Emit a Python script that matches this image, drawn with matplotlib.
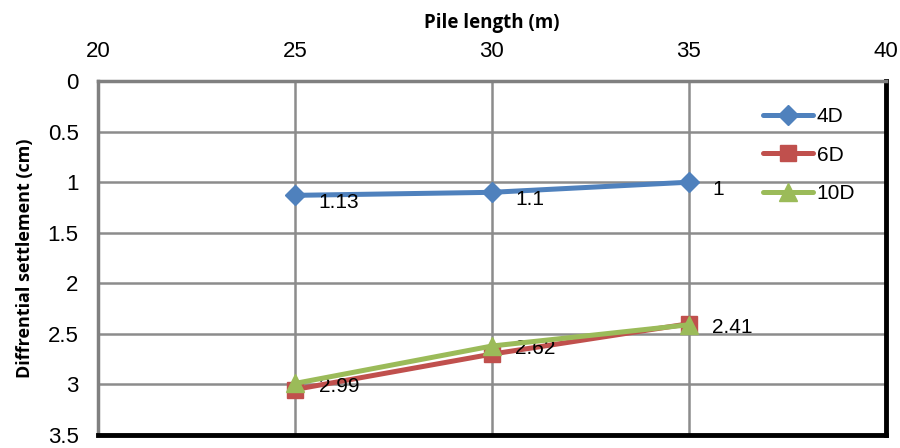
import matplotlib
matplotlib.use("Agg")
import matplotlib.pyplot as plt

# pile lengths (m) and differential settlement (cm) for each spacing
pile_length = [25, 30, 35]
settle_4d = [1.13, 1.10, 1.00]
settle_6d = [3.05, 2.70, 2.40]
settle_10d = [2.99, 2.62, 2.41]

x_ticks = [20, 25, 30, 35, 40]
y_ticks = [0, 0.5, 1, 1.5, 2, 2.5, 3, 3.5]

num_font = ["Liberation Sans Narrow", "Liberation Sans"]

fig = plt.figure(figsize=(9, 4.48), dpi=100)
ax = fig.add_axes([0.109, 0.029, 0.875, 0.790])

ax.plot(pile_length, settle_4d, color="#4F81BD", lw=3.6, marker="D", ms=10,
        label="4D", solid_capstyle="round", zorder=3)
ax.plot(pile_length, settle_6d, color="#C0504D", lw=3.6, marker="s", ms=12,
        label="6D", solid_capstyle="round", zorder=3)
ax.plot(pile_length, settle_10d, color="#9BBB59", lw=3.6, marker="^", ms=13,
        label="10D", solid_capstyle="round", zorder=4)

# value labels next to the points
for x, y in zip(pile_length, settle_4d):
    ax.annotate(f"{y:g}", (x, y), xytext=(17, -5), textcoords="offset points",
                ha="left", va="center", fontsize=15, family="Liberation Sans")
for x, y in zip(pile_length, settle_10d):
    ax.annotate(f"{y:g}", (x, y), xytext=(17, -2), textcoords="offset points",
                ha="left", va="center", fontsize=15, family="Liberation Sans")

ax.set_xlim(20, 40)
ax.set_ylim(3.5, 0)
ax.set_xticks(x_ticks)
ax.set_yticks(y_ticks)
ax.set_yticklabels([f"{v:g}" for v in y_ticks])
ax.xaxis.tick_top()
ax.xaxis.set_label_position("top")
ax.tick_params(length=0, labelsize=16)
ax.tick_params(axis="x", pad=14)
ax.tick_params(axis="y", pad=14)
for lab in ax.get_xticklabels() + ax.get_yticklabels():
    lab.set_family(num_font)

ax.grid(True, color="#8C8C8C", lw=1.8)
ax.set_axisbelow(True)

ax.set_xlabel("Pile length (m)", fontsize=13.5, fontweight="bold",
              family="Open Sans", labelpad=9)
ax.set_ylabel("Diffrential settlement (cm)", fontsize=13, fontweight="bold",
              family="Open Sans", labelpad=10)

ax.spines["top"].set_color("#808080")
ax.spines["left"].set_color("#808080")
ax.spines["top"].set_linewidth(2.5)
ax.spines["left"].set_linewidth(2.5)
ax.spines["right"].set_color("black")
ax.spines["bottom"].set_color("black")
ax.spines["right"].set_linewidth(3.5)
ax.spines["bottom"].set_linewidth(3.5)

leg = ax.legend(loc="upper right", bbox_to_anchor=(0.985, 0.98), frameon=False,
                handlelength=2.4, handletextpad=0.15, labelspacing=0.95,
                prop={"family": "Liberation Sans", "size": 15})

fig.savefig("out.png", dpi=100)
